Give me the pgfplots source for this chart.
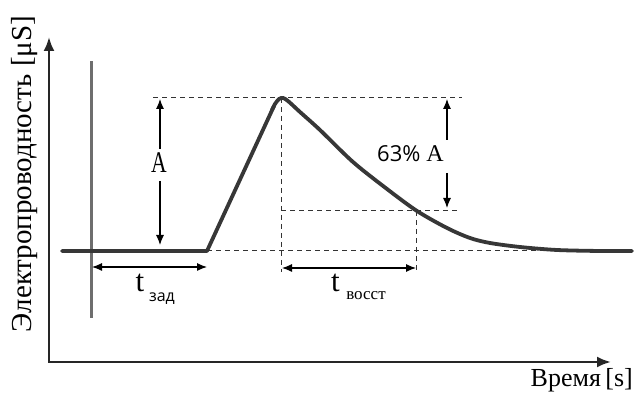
\documentclass[border=0pt]{standalone}
\usepackage{fontspec}
\setmainfont{Liberation Serif}
\newfontfamily\sansf{Open Sans}
\usepackage{pgfplots}
\pgfplotsset{compat=1.18}
\usetikzlibrary{arrows.meta}
\definecolor{curve}{RGB}{55,55,55}
\definecolor{vline}{RGB}{110,110,110}
\begin{document}
\begin{tikzpicture}
\begin{axis}[width=638pt,height=401pt,scale only axis,
  xmin=0,xmax=638,ymin=0,ymax=401,hide axis,clip=false]
\path (axis cs:0,0) rectangle (axis cs:638,401);
% axes
\addplot[line width=2.4pt,black!85,-{Latex[length=14pt,width=11pt]}] coordinates {(49,39) (49,364)};
\addplot[line width=2.4pt,black!85,-{Latex[length=14pt,width=11pt]}] coordinates {(48,39) (611,39)};
% stimulus line
\addplot[line width=3pt,vline] coordinates {(91,83) (91,340)};
% dashed guides
\addplot[line width=1pt,black!80,dash pattern=on 5pt off 4pt] coordinates {(153,303) (462,303)};
\addplot[line width=1pt,black!80,dash pattern=on 5pt off 4pt] coordinates {(207,150) (562,150)};
\addplot[line width=1pt,black!80,dash pattern=on 5pt off 4pt] coordinates {(281,190) (460,190)};
\addplot[line width=1pt,black!80,dash pattern=on 5pt off 4pt] coordinates {(281,303) (281,129)};
\addplot[line width=1pt,black!80,dash pattern=on 5pt off 4pt] coordinates {(416,190) (416,131)};
% curve
\addplot[line width=3.8pt,curve,line join=round,line cap=round] coordinates {(62,150) (207,150) (274,295)};
\addplot[line width=3.8pt,curve,smooth,tension=0.5,line cap=round] coordinates {(272,291) (275,297) (279,302) (283,303) (288,300) (300,289) (320,271) (353,239) (387,212) (417,190) (447,173) (470,163) (490,158) (520,154) (557,151) (600,150) (632,150)};
% A arrow
\addplot[line width=1.1pt,black,-{Latex[length=10pt,width=8pt]}] coordinates {(160,252) (160,302)};
\addplot[line width=1.1pt,black,-{Latex[length=10pt,width=8pt]}] coordinates {(160,220) (160,156)};
% 63% A arrow
\addplot[line width=1.1pt,black,-{Latex[length=10pt,width=8pt]}] coordinates {(447,261) (447,302)};
\addplot[line width=1.1pt,black,-{Latex[length=10pt,width=8pt]}] coordinates {(447,228) (447,193)};
% t arrows
\addplot[line width=1.1pt,black,{Latex[length=10pt,width=8pt]}-{Latex[length=10pt,width=8pt]}] coordinates {(92,134) (207,134)};
\addplot[line width=1.1pt,black,{Latex[length=10pt,width=8pt]}-{Latex[length=10pt,width=8pt]}] coordinates {(282,133) (416,133)};
% labels
\node[font=\fontsize{30}{34}\selectfont,xscale=0.72,anchor=base,inner sep=0pt] at (axis cs:159,228) {A};
\node[anchor=base west,inner sep=0pt] at (axis cs:377,239) {{\sansf\fontsize{22}{26}\selectfont 63\%}\fontsize{24}{28}\selectfont\ A};
\node[font=\fontsize{31}{34}\selectfont,anchor=base,inner sep=0pt] at (axis cs:140,109) {t};
\node[font=\sansf\fontsize{16}{18}\selectfont,anchor=base,inner sep=0pt] at (axis cs:162,99) {зад};
\node[font=\fontsize{31}{34}\selectfont,anchor=base,inner sep=0pt] at (axis cs:335.5,109) {t};
\node[font=\fontsize{17}{20}\selectfont,anchor=base,inner sep=0pt] at (axis cs:366,101) {восст};
\node[font=\fontsize{26}{30}\selectfont,anchor=base east,inner sep=0pt] at (axis cs:633,14) {Время\,[s]};
\node[font=\fontsize{29}{34}\selectfont,rotate=90,anchor=base,inner sep=0pt] at (axis cs:31,227) {Электропроводность [μS]};
\end{axis}
\end{tikzpicture}
\end{document}
